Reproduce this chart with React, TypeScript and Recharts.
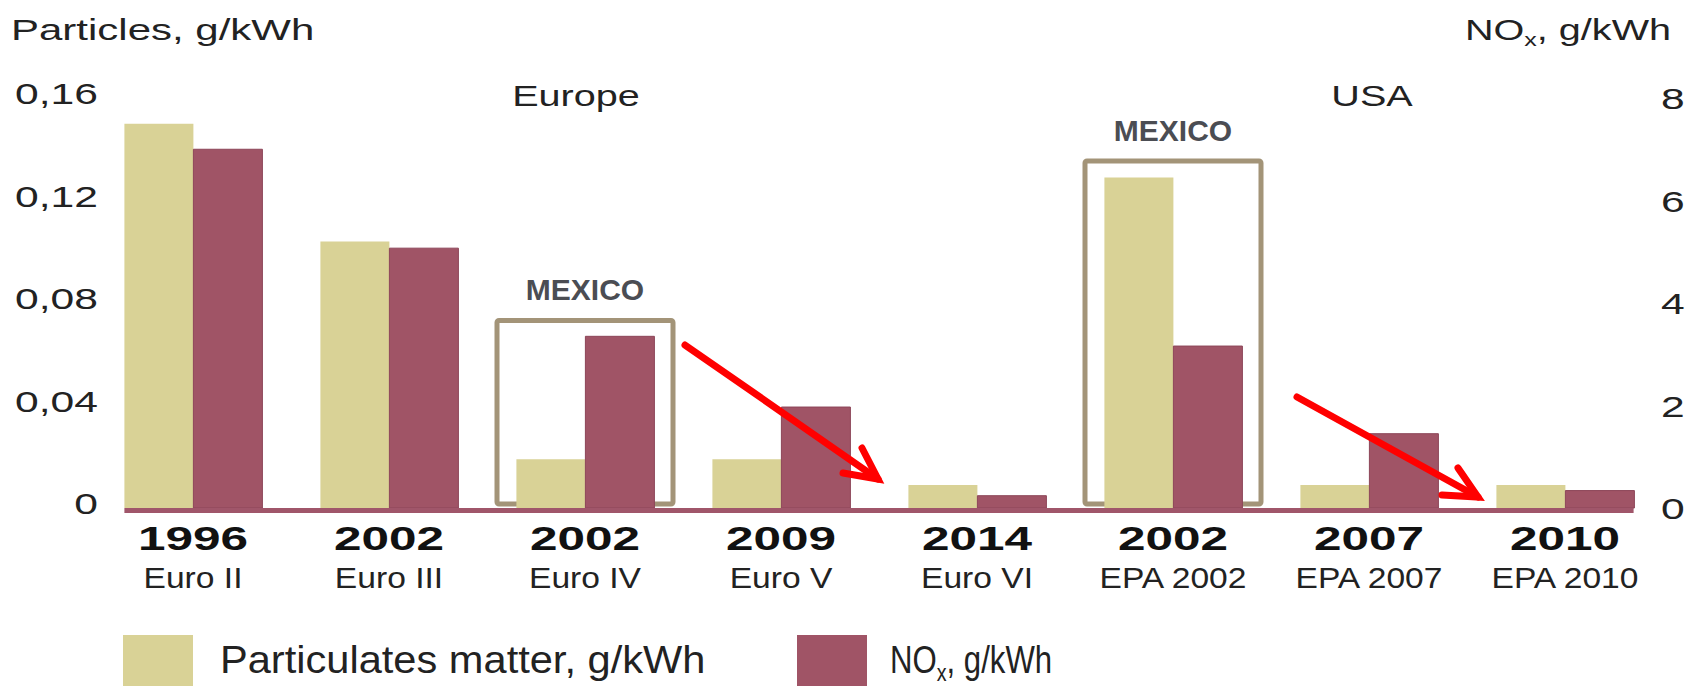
import React from 'react'
import { Bar, BarChart, Legend, ReferenceArea, ReferenceLine, XAxis, YAxis } from 'recharts'

const standards = ['Euro II', 'Euro III', 'Euro IV', 'Euro V', 'Euro VI', 'EPA 2002', 'EPA 2007', 'EPA 2010']
const years = ['1996', '2002', '2002', '2009', '2014', '2002', '2007', '2010']
const particulates = [0.15, 0.104, 0.019, 0.019, 0.009, 0.129, 0.009, 0.009]
const noxValues = [7.0, 5.07, 3.35, 1.97, 0.24, 3.16, 1.45, 0.34]
const pmTicks = [0, 0.04, 0.08, 0.12, 0.16]
const noxTicks = [0, 2, 4, 6, 8]
// boxes drawn around the standards adopted by Mexico (top in NOx units)
const mexicoBoxes = [
  { standard: 'Euro IV', top: 3.66 },
  { standard: 'EPA 2002', top: 6.77 },
]

const data = standards.map((standard, i) => ({
  standard,
  year: years[i],
  pm: particulates[i],
  nox: noxValues[i],
}))

const FONT = '"Liberation Sans", Arial, Helvetica, sans-serif'
const PM_COLOR = '#d9d296'
const NOX_COLOR = '#a05466'
const BOX_COLOR = '#a39478'
const TEXT = '#222'

function XTick(props: any) {
  const { x, y, payload } = props
  const i = standards.indexOf(payload.value)
  return (
    <g transform={`translate(${x},${y})`} fontFamily={FONT}>
      <text transform="translate(0,40) scale(1.5,1)" textAnchor="middle" fontSize={33} fontWeight={700} fill="#111">
        {years[i]}
      </text>
      <text transform="translate(0,78) scale(1.12,1)" textAnchor="middle" fontSize={30} fill={TEXT}>
        {payload.value}
      </text>
    </g>
  )
}

function LeftTick(props: any) {
  const { x, y, payload } = props
  const v = payload.value === 0 ? '0' : payload.value.toFixed(2).replace('.', ',')
  return (
    <text transform={`translate(${x + 5},${y + 6}) scale(1.42,1)`} textAnchor="end" fontSize={30} fontFamily={FONT} fill={TEXT}>
      {v}
    </text>
  )
}

function RightTick(props: any) {
  const { x, y, payload } = props
  return (
    <text transform={`translate(${x - 4},${y + 11}) scale(1.42,1)`} textAnchor="start" fontSize={30} fontFamily={FONT} fill={TEXT}>
      {String(payload.value)}
    </text>
  )
}

function MexicoBox(props: any) {
  const { x, y, width, height } = props
  const inset = 10
  return (
    <rect x={x + inset} y={y} width={width - inset * 2} height={height - 4} fill="none" stroke={BOX_COLOR} strokeWidth={5} rx={2} />
  )
}

function MexicoLabel(props: any) {
  const vb = props.viewBox
  return (
    <text x={vb.x + vb.width / 2} y={vb.y - 20} textAnchor="middle" fontSize={30} fontWeight={700} fontFamily={FONT} fill="#4b4d53">
      MEXICO
    </text>
  )
}

// segment runs between the middles of the first and last category; extend to the bar edges
function Baseline(props: any) {
  const x1 = Number(props.x1)
  const x2 = Number(props.x2)
  const y = Number(props.y1) + 2.5
  const half = 68.6
  return <line x1={x1 - half} x2={x2 + half} y1={y} y2={y} stroke="#a0566a" strokeWidth={5} />
}

const legendLayout: Record<string, { swatch: number; text: number; scale: number }> = {
  pm: { swatch: 123, text: 220, scale: 1.095 },
  nox: { swatch: 797, text: 890, scale: 0.82 },
}

function LegendContent(props: any) {
  const payload = props.payload || []
  return (
    <div style={{ width: 1701, height: 78 }}>
      <svg width={1701} height={78} style={{ display: 'block' }}>
        {payload.map((item: any) => {
          const l = legendLayout[item.dataKey]
          if (!l) return null
          return (
            <g key={item.dataKey}>
              <rect x={l.swatch} y={27} width={70} height={51} fill={item.color} />
              <text transform={`translate(${l.text},65) scale(${l.scale},1)`} fontSize={38} fontFamily={FONT} fill={TEXT}>
                {item.dataKey === 'nox' ? (
                  <>
                    NO<tspan fontSize={24} dy={8}>x</tspan>
                    <tspan dy={-8}>, g/kWh</tspan>
                  </>
                ) : (
                  item.value
                )}
              </text>
            </g>
          )
        })}
      </svg>
    </div>
  )
}

function Arrow({ from, tip, arms }: { from: number[]; tip: number[]; arms: number[][] }) {
  return (
    <g stroke="#ff0000" strokeWidth={7} fill="none" strokeLinecap="round">
      <line x1={from[0]} y1={from[1]} x2={tip[0]} y2={tip[1]} />
      <polyline points={`${arms[0].join(',')} ${tip.join(',')} ${arms[1].join(',')}`} strokeLinejoin="miter" />
    </g>
  )
}

export default function App() {
  return (
    <div style={{ position: 'absolute', left: 0, top: 0, width: 1701, height: 686, overflow: 'hidden', background: '#fff' }}>
      <BarChart
        width={1701}
        height={686}
        data={data}
        margin={{ top: 98, right: 0, bottom: 0, left: 0 }}
        barCategoryGap="15%"
        barGap={0}
      >
        <XAxis dataKey="standard" axisLine={false} tickLine={false} tickSize={0} height={100} interval={0} tick={<XTick />} />
        <YAxis
          yAxisId="pm"
          orientation="left"
          width={95}
          domain={[0, 0.16]}
          ticks={pmTicks}
          axisLine={false}
          tickLine={false}
          tickSize={0}
          tick={<LeftTick />}
        />
        <YAxis
          yAxisId="nox"
          orientation="right"
          width={38}
          domain={[0, 8]}
          ticks={noxTicks}
          axisLine={false}
          tickLine={false}
          tickSize={0}
          tick={<RightTick />}
        />
        <Bar yAxisId="pm" dataKey="pm" name="Particulates matter, g/kWh" fill={PM_COLOR} isAnimationActive={false} />
        <Bar yAxisId="nox" dataKey="nox" name="NOx, g/kWh" fill={NOX_COLOR} stroke="#8c4558" strokeWidth={1} isAnimationActive={false} />
        <ReferenceLine
          yAxisId="nox"
          segment={[
            { x: standards[0], y: 0 },
            { x: standards[standards.length - 1], y: 0 },
          ]}
          ifOverflow="visible"
          shape={Baseline}
        />
        {mexicoBoxes.map((b) => (
          <ReferenceArea
            key={b.standard}
            yAxisId="nox"
            x1={b.standard}
            x2={b.standard}
            y1={0}
            y2={b.top}
            ifOverflow="visible"
            shape={MexicoBox}
            label={MexicoLabel}
          />
        ))}
        <Legend verticalAlign="bottom" height={78} content={LegendContent} wrapperStyle={{ left: 0, bottom: 0, width: 1701, height: 78 }} />
      </BarChart>
      <svg width={1701} height={686} style={{ position: 'absolute', left: 0, top: 0, pointerEvents: 'none' }}>
        <g fontFamily={FONT} fontSize={30} fill={TEXT}>
          <text transform="translate(11,40) scale(1.4,1)">Particles, g/kWh</text>
          <text transform="translate(1671,40) scale(1.32,1)" textAnchor="end">
            NO<tspan fontSize={19} dy={6}>x</tspan>
            <tspan dy={-6}>, g/kWh</tspan>
          </text>
          <text transform="translate(576,106) scale(1.32,1)" textAnchor="middle">Europe</text>
          <text transform="translate(1372,106) scale(1.32,1)" textAnchor="middle">USA</text>
        </g>
        <Arrow from={[685, 345]} tip={[878, 479]} arms={[[843, 473], [862, 448]]} />
        <Arrow from={[1297, 397]} tip={[1478, 497]} arms={[[1442, 495], [1458, 468]]} />
      </svg>
    </div>
  )
}
